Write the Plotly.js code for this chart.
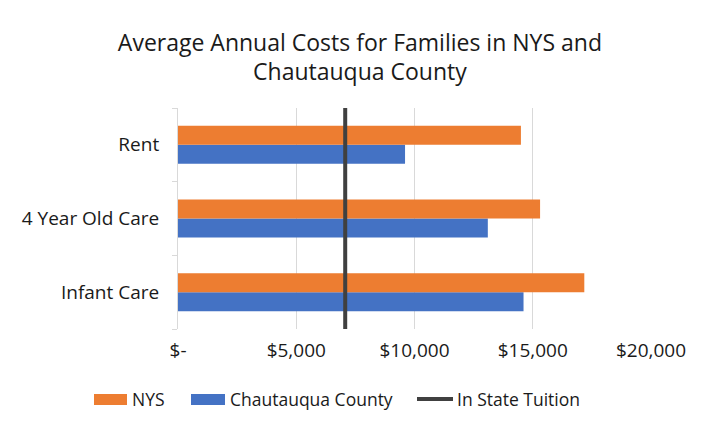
<!DOCTYPE html>
<html>
<head>
<meta charset="utf-8">
<script src="https://cdn.plot.ly/plotly-3.0.1.min.js"></script>
<style>html,body{margin:0;padding:0;background:#fff;}#chart{width:703px;height:421px;}</style>
</head>
<body>
<div id="chart"></div>
<script>
const categories = ["Infant Care", "4 Year Old Care", "Rent"];
const nysValues = [17180, 15310, 14500];
const chautauquaValues = [14610, 13100, 9600];
const tuitionValue = 7070;
const tickValues = [0, 5000, 10000, 15000, 20000];
const tickLabels = ["$-", "$5,000", "$10,000", "$15,000", "$20,000"];
const seriesNames = ["NYS", "Chautauqua County", "In State Tuition"];

const FONT = "Open Sans, sans-serif";
const ORANGE = "#ED7D31", BLUE = "#4472C4", DARK = "#404040";
const W = 703, H = 421, ML = 178, MR = 52, MT = 108, MB = 92;
const PW = W - ML - MR, PH = H - MT - MB;
// pixel -> paper helpers (for the custom legend layout only)
const px = v => (v - ML) / PW;
const py = v => (H - MB - v) / PH;

const data = [
  {type: "bar", orientation: "h", name: seriesNames[1], y: categories, x: chautauquaValues,
   marker: {color: BLUE}, hoverinfo: "x+name"},
  {type: "bar", orientation: "h", name: seriesNames[0], y: categories, x: nysValues,
   marker: {color: ORANGE}, hoverinfo: "x+name"},
  {type: "scatter", mode: "lines", name: seriesNames[2], x: [tuitionValue, tuitionValue], y: [0, 1],
   yaxis: "y2", line: {color: DARK, width: 4}, hoverinfo: "x+name"}
];

// custom legend (wide swatches, spacing like the original)
const legendItems = [
  {name: seriesNames[0], color: ORANGE, kind: "rect", x0: 94, x1: 127, tx: 130},
  {name: seriesNames[1], color: BLUE, kind: "rect", x0: 191, x1: 225, tx: 228},
  {name: seriesNames[2], color: DARK, kind: "line", x0: 417, x1: 453, tx: 455}
];
const shapes = [], annotations = [];
legendItems.forEach(it => {
  if (it.kind === "rect") {
    shapes.push({type: "rect", xref: "paper", yref: "paper", x0: px(it.x0), x1: px(it.x1),
                 y0: py(405), y1: py(394), fillcolor: it.color, line: {width: 0}});
  } else {
    shapes.push({type: "line", xref: "paper", yref: "paper", x0: px(it.x0), x1: px(it.x1),
                 y0: py(399), y1: py(399), line: {color: it.color, width: 4}});
  }
  annotations.push({xref: "paper", yref: "paper", x: px(it.tx), y: py(399), xanchor: "left", yanchor: "middle",
                    text: it.name, showarrow: false, font: {family: FONT, size: 17.5, color: "#1a1a1a"}});
});

const layout = {
  width: W, height: H,
  margin: {l: ML, r: MR, t: MT, b: MB, autoexpand: false},
  paper_bgcolor: "#fff", plot_bgcolor: "#fff",
  font: {family: FONT, size: 19, color: "#1a1a1a"},
  title: {text: "Average Annual Costs for Families in NYS and<br>Chautauqua County",
          font: {family: FONT, size: 23, color: "#1a1a1a"},
          x: 0.512, xanchor: "center", y: 0.88, yanchor: "top", yref: "container"},
  barmode: "group", bargap: 0.484, bargroupgap: 0,
  xaxis: {range: [0, 20000], tickvals: tickValues, ticktext: tickLabels,
          showgrid: true, gridcolor: "#d9d9d9", gridwidth: 1, zeroline: false,
          showline: false, ticks: "", fixedrange: true, ticklabelstandoff: 8},
  yaxis: {type: "category", showline: true, linecolor: "#d9d9d9", linewidth: 1,
          ticks: "outside", tickson: "boundaries", ticklen: 5, tickcolor: "#d9d9d9",
          showgrid: false, zeroline: false, ticklabelstandoff: 14},
  yaxis2: {overlaying: "y", range: [0, 1], visible: false, fixedrange: true},
  showlegend: false,
  shapes: shapes,
  annotations: annotations
};
Plotly.newPlot("chart", data, layout, {displayModeBar: false, staticPlot: true});
</script>
</body>
</html>
